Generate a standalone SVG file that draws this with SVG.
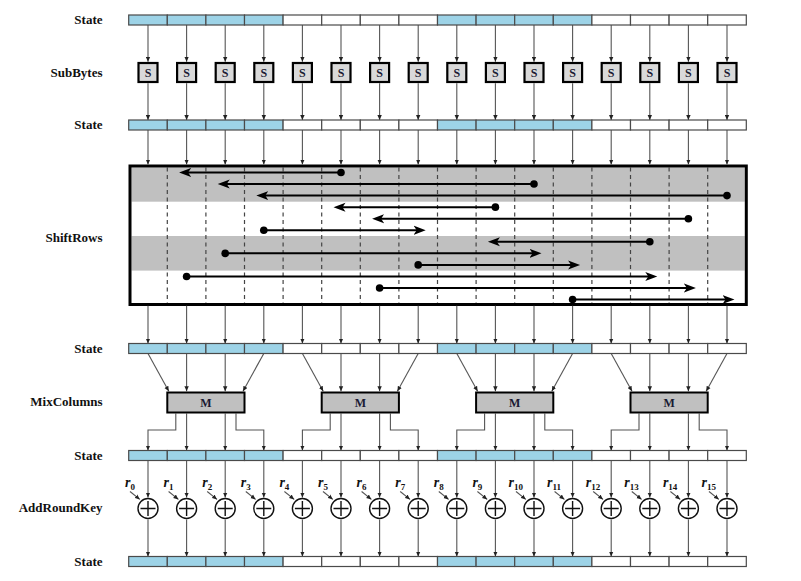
<svg xmlns="http://www.w3.org/2000/svg" xmlns:xlink="http://www.w3.org/1999/xlink" width="801" height="581" viewBox="0 0 801 581">
<style>
.lbl{font-family:"Liberation Serif","Times New Roman",serif;font-weight:bold;font-size:13px;text-anchor:end;fill:#111}
.conn{stroke:#555;stroke-width:1.1;fill:none;marker-end:url(#ah)}
.sr{stroke:#000;stroke-width:2;fill:none;marker-start:url(#dot);marker-end:url(#big)}
.cb{fill:#9dd3e7;stroke:#4a4a4a;stroke-width:1.2}
.cw{fill:#fff;stroke:#4a4a4a;stroke-width:1.2}
.sbox rect{fill:#d9d9d9;stroke:#000;stroke-width:2.2}
.mbox rect{fill:#c0c0c0;stroke:#000;stroke-width:2}
.bt{font-family:"Liberation Serif","Times New Roman",serif;font-weight:bold;text-anchor:middle;fill:#1a1a33}
.xor circle{fill:#fff;stroke:#111;stroke-width:1.4}
.xor path{stroke:#111;stroke-width:1.4;fill:none}
.rl{font-family:"Liberation Serif","Times New Roman",serif;font-style:italic;font-weight:bold;font-size:14px;fill:#111}
.rl tspan{font-style:normal;font-size:9px}
.dash{stroke:#444;stroke-width:1.2;stroke-dasharray:4 3.5}
</style>
<defs>
<marker id="ah" markerUnits="userSpaceOnUse" markerWidth="6" markerHeight="5" refX="5" refY="2.5" orient="auto"><path d="M0,0.3 L5,2.5 L0,4.7 z" fill="#222"/></marker>
<marker id="big" markerUnits="userSpaceOnUse" markerWidth="13" markerHeight="10" refX="7.5" refY="5" orient="auto"><path d="M0,0.5 L12,5 L0,9.5 L3,5 z" fill="#000"/></marker>
<marker id="dot" markerUnits="userSpaceOnUse" markerWidth="9" markerHeight="9" refX="4.5" refY="4.5"><circle cx="4.5" cy="4.5" r="3.8" fill="#000"/></marker>
<g id="barShape">
<rect class="cb" x="128.7" y="0" width="38.6" height="10"/>
<rect class="cb" x="167.3" y="0" width="38.6" height="10"/>
<rect class="cb" x="205.9" y="0" width="38.6" height="10"/>
<rect class="cb" x="244.5" y="0" width="38.6" height="10"/>
<rect class="cw" x="283.1" y="0" width="38.6" height="10"/>
<rect class="cw" x="321.7" y="0" width="38.6" height="10"/>
<rect class="cw" x="360.3" y="0" width="38.6" height="10"/>
<rect class="cw" x="398.9" y="0" width="38.6" height="10"/>
<rect class="cb" x="437.5" y="0" width="38.6" height="10"/>
<rect class="cb" x="476.1" y="0" width="38.6" height="10"/>
<rect class="cb" x="514.7" y="0" width="38.6" height="10"/>
<rect class="cb" x="553.3" y="0" width="38.6" height="10"/>
<rect class="cw" x="591.9" y="0" width="38.6" height="10"/>
<rect class="cw" x="630.5" y="0" width="38.6" height="10"/>
<rect class="cw" x="669.1" y="0" width="38.6" height="10"/>
<rect class="cw" x="707.7" y="0" width="38.6" height="10"/>
</g>
<g id="colArrows">
<path class="conn" d="M0,25 V61.8"/>
<path class="conn" d="M0,83.2 V120"/>
<path class="conn" d="M0,130 V164.5"/>
<path class="conn" d="M0,305.8 V343.5"/>
<path class="conn" d="M0,460.5 V497.6"/>
<path class="conn" d="M0,519.4 V556.5"/>
<path class="conn" d="M-18,491.5 L-8.2,499.4"/>
</g>
<g id="mixArrows">
<path class="conn" d="M148,353.5 L168.8,391.2"/>
<path class="conn" d="M186.6,353.5 V391.2"/>
<path class="conn" d="M225.2,353.5 V391.2"/>
<path class="conn" d="M263.8,353.5 L243,391.2"/>
<path class="conn" d="M175.8,413.5 V430 H148 V450.5"/>
<path class="conn" d="M186.6,413.5 V450.5"/>
<path class="conn" d="M225.2,413.5 V450.5"/>
<path class="conn" d="M236,413.5 V430 H263.8 V450.5"/>
</g>
</defs>
<rect width="801" height="581" fill="#fff"/>

<g id="labels">
<text class="lbl" x="102.5" y="24.3">State</text>
<text class="lbl" x="102.5" y="77">SubBytes</text>
<text class="lbl" x="102.5" y="129.3">State</text>
<text class="lbl" x="102.5" y="241.5">ShiftRows</text>
<text class="lbl" x="102.5" y="353">State</text>
<text class="lbl" x="102.5" y="405.5">MixColumns</text>
<text class="lbl" x="102.5" y="460">State</text>
<text class="lbl" x="102.5" y="512">AddRoundKey</text>
<text class="lbl" x="102.5" y="565.5">State</text>
</g>

<g id="shiftrows">
<rect x="131.5" y="167.5" width="613.3" height="34.2" fill="#c0c0c0"/>
<rect x="131.5" y="236" width="613.3" height="34.6" fill="#c0c0c0"/>
<g class="dash">
<path d="M167.3,167.5V303M205.9,167.5V303M244.5,167.5V303M283.1,167.5V303M321.7,167.5V303M360.3,167.5V303M398.9,167.5V303M437.5,167.5V303M476.1,167.5V303M514.7,167.5V303M553.3,167.5V303M591.9,167.5V303M630.5,167.5V303M669.1,167.5V303M707.7,167.5V303"/>
</g>
<path class="sr" d="M341,172.5 H183.6"/>
<path class="sr" d="M534,184.05 H222.2"/>
<path class="sr" d="M727,195.6 H260.8"/>
<path class="sr" d="M495.4,207.15 H338"/>
<path class="sr" d="M688.4,218.7 H376.6"/>
<path class="sr" d="M263.8,230.25 H421.2"/>
<path class="sr" d="M649.8,241.8 H492.4"/>
<path class="sr" d="M225.2,253.35 H537"/>
<path class="sr" d="M418.2,264.9 H575.6"/>
<path class="sr" d="M186.6,276.45 H652.8"/>
<path class="sr" d="M379.6,288 H691.4"/>
<path class="sr" d="M572.6,299.55 H730"/>
<rect x="130" y="166" width="616.3" height="138.5" fill="none" stroke="#000" stroke-width="3"/>
</g>

<g id="connectors">
<use href="#colArrows" x="148"/>
<use href="#colArrows" x="186.6"/>
<use href="#colArrows" x="225.2"/>
<use href="#colArrows" x="263.8"/>
<use href="#colArrows" x="302.4"/>
<use href="#colArrows" x="341"/>
<use href="#colArrows" x="379.6"/>
<use href="#colArrows" x="418.2"/>
<use href="#colArrows" x="456.8"/>
<use href="#colArrows" x="495.4"/>
<use href="#colArrows" x="534"/>
<use href="#colArrows" x="572.6"/>
<use href="#colArrows" x="611.2"/>
<use href="#colArrows" x="649.8"/>
<use href="#colArrows" x="688.4"/>
<use href="#colArrows" x="727"/>
<use href="#mixArrows" x="0"/>
<use href="#mixArrows" x="154.4"/>
<use href="#mixArrows" x="308.8"/>
<use href="#mixArrows" x="463.2"/>
</g>

<g id="state1"><use href="#barShape" y="15"/></g>
<g id="state2"><use href="#barShape" y="120"/></g>
<g id="state3"><use href="#barShape" y="343.5"/></g>
<g id="state4"><use href="#barShape" y="450.5"/></g>
<g id="state5"><use href="#barShape" y="556.5"/></g>

<g id="subbytes">
<g id="s0" class="sbox" transform="translate(148,0)"><rect x="-9.5" y="63" width="19" height="19"/><text class="bt" font-size="12" x="0" y="76.8">S</text></g>
<g id="s1" class="sbox" transform="translate(186.6,0)"><rect x="-9.5" y="63" width="19" height="19"/><text class="bt" font-size="12" x="0" y="76.8">S</text></g>
<g id="s2" class="sbox" transform="translate(225.2,0)"><rect x="-9.5" y="63" width="19" height="19"/><text class="bt" font-size="12" x="0" y="76.8">S</text></g>
<g id="s3" class="sbox" transform="translate(263.8,0)"><rect x="-9.5" y="63" width="19" height="19"/><text class="bt" font-size="12" x="0" y="76.8">S</text></g>
<g id="s4" class="sbox" transform="translate(302.4,0)"><rect x="-9.5" y="63" width="19" height="19"/><text class="bt" font-size="12" x="0" y="76.8">S</text></g>
<g id="s5" class="sbox" transform="translate(341,0)"><rect x="-9.5" y="63" width="19" height="19"/><text class="bt" font-size="12" x="0" y="76.8">S</text></g>
<g id="s6" class="sbox" transform="translate(379.6,0)"><rect x="-9.5" y="63" width="19" height="19"/><text class="bt" font-size="12" x="0" y="76.8">S</text></g>
<g id="s7" class="sbox" transform="translate(418.2,0)"><rect x="-9.5" y="63" width="19" height="19"/><text class="bt" font-size="12" x="0" y="76.8">S</text></g>
<g id="s8" class="sbox" transform="translate(456.8,0)"><rect x="-9.5" y="63" width="19" height="19"/><text class="bt" font-size="12" x="0" y="76.8">S</text></g>
<g id="s9" class="sbox" transform="translate(495.4,0)"><rect x="-9.5" y="63" width="19" height="19"/><text class="bt" font-size="12" x="0" y="76.8">S</text></g>
<g id="s10" class="sbox" transform="translate(534,0)"><rect x="-9.5" y="63" width="19" height="19"/><text class="bt" font-size="12" x="0" y="76.8">S</text></g>
<g id="s11" class="sbox" transform="translate(572.6,0)"><rect x="-9.5" y="63" width="19" height="19"/><text class="bt" font-size="12" x="0" y="76.8">S</text></g>
<g id="s12" class="sbox" transform="translate(611.2,0)"><rect x="-9.5" y="63" width="19" height="19"/><text class="bt" font-size="12" x="0" y="76.8">S</text></g>
<g id="s13" class="sbox" transform="translate(649.8,0)"><rect x="-9.5" y="63" width="19" height="19"/><text class="bt" font-size="12" x="0" y="76.8">S</text></g>
<g id="s14" class="sbox" transform="translate(688.4,0)"><rect x="-9.5" y="63" width="19" height="19"/><text class="bt" font-size="12" x="0" y="76.8">S</text></g>
<g id="s15" class="sbox" transform="translate(727,0)"><rect x="-9.5" y="63" width="19" height="19"/><text class="bt" font-size="12" x="0" y="76.8">S</text></g>
</g>

<g id="mixcolumns">
<g id="m0" class="mbox" transform="translate(0,0)"><rect x="167.3" y="392.5" width="77.2" height="20"/><text class="bt" font-size="12" x="205.9" y="406.8">M</text></g>
<g id="m1" class="mbox" transform="translate(154.4,0)"><rect x="167.3" y="392.5" width="77.2" height="20"/><text class="bt" font-size="12" x="205.9" y="406.8">M</text></g>
<g id="m2" class="mbox" transform="translate(308.8,0)"><rect x="167.3" y="392.5" width="77.2" height="20"/><text class="bt" font-size="12" x="205.9" y="406.8">M</text></g>
<g id="m3" class="mbox" transform="translate(463.2,0)"><rect x="167.3" y="392.5" width="77.2" height="20"/><text class="bt" font-size="12" x="205.9" y="406.8">M</text></g>
</g>

<g id="addroundkey">
<g id="x0" class="xor" transform="translate(148,508.5)"><circle r="10"/><path d="M-7.5,0H7.5M0,-7.5V7.5"/><text class="rl" x="-23" y="-21.5">r<tspan dy="3">0</tspan></text></g>
<g id="x1" class="xor" transform="translate(186.6,508.5)"><circle r="10"/><path d="M-7.5,0H7.5M0,-7.5V7.5"/><text class="rl" x="-23" y="-21.5">r<tspan dy="3">1</tspan></text></g>
<g id="x2" class="xor" transform="translate(225.2,508.5)"><circle r="10"/><path d="M-7.5,0H7.5M0,-7.5V7.5"/><text class="rl" x="-23" y="-21.5">r<tspan dy="3">2</tspan></text></g>
<g id="x3" class="xor" transform="translate(263.8,508.5)"><circle r="10"/><path d="M-7.5,0H7.5M0,-7.5V7.5"/><text class="rl" x="-23" y="-21.5">r<tspan dy="3">3</tspan></text></g>
<g id="x4" class="xor" transform="translate(302.4,508.5)"><circle r="10"/><path d="M-7.5,0H7.5M0,-7.5V7.5"/><text class="rl" x="-23" y="-21.5">r<tspan dy="3">4</tspan></text></g>
<g id="x5" class="xor" transform="translate(341,508.5)"><circle r="10"/><path d="M-7.5,0H7.5M0,-7.5V7.5"/><text class="rl" x="-23" y="-21.5">r<tspan dy="3">5</tspan></text></g>
<g id="x6" class="xor" transform="translate(379.6,508.5)"><circle r="10"/><path d="M-7.5,0H7.5M0,-7.5V7.5"/><text class="rl" x="-23" y="-21.5">r<tspan dy="3">6</tspan></text></g>
<g id="x7" class="xor" transform="translate(418.2,508.5)"><circle r="10"/><path d="M-7.5,0H7.5M0,-7.5V7.5"/><text class="rl" x="-23" y="-21.5">r<tspan dy="3">7</tspan></text></g>
<g id="x8" class="xor" transform="translate(456.8,508.5)"><circle r="10"/><path d="M-7.5,0H7.5M0,-7.5V7.5"/><text class="rl" x="-23" y="-21.5">r<tspan dy="3">8</tspan></text></g>
<g id="x9" class="xor" transform="translate(495.4,508.5)"><circle r="10"/><path d="M-7.5,0H7.5M0,-7.5V7.5"/><text class="rl" x="-23" y="-21.5">r<tspan dy="3">9</tspan></text></g>
<g id="x10" class="xor" transform="translate(534,508.5)"><circle r="10"/><path d="M-7.5,0H7.5M0,-7.5V7.5"/><text class="rl" x="-25.5" y="-21.5">r<tspan dy="3">10</tspan></text></g>
<g id="x11" class="xor" transform="translate(572.6,508.5)"><circle r="10"/><path d="M-7.5,0H7.5M0,-7.5V7.5"/><text class="rl" x="-25.5" y="-21.5">r<tspan dy="3">11</tspan></text></g>
<g id="x12" class="xor" transform="translate(611.2,508.5)"><circle r="10"/><path d="M-7.5,0H7.5M0,-7.5V7.5"/><text class="rl" x="-25.5" y="-21.5">r<tspan dy="3">12</tspan></text></g>
<g id="x13" class="xor" transform="translate(649.8,508.5)"><circle r="10"/><path d="M-7.5,0H7.5M0,-7.5V7.5"/><text class="rl" x="-25.5" y="-21.5">r<tspan dy="3">13</tspan></text></g>
<g id="x14" class="xor" transform="translate(688.4,508.5)"><circle r="10"/><path d="M-7.5,0H7.5M0,-7.5V7.5"/><text class="rl" x="-25.5" y="-21.5">r<tspan dy="3">14</tspan></text></g>
<g id="x15" class="xor" transform="translate(727,508.5)"><circle r="10"/><path d="M-7.5,0H7.5M0,-7.5V7.5"/><text class="rl" x="-25.5" y="-21.5">r<tspan dy="3">15</tspan></text></g>
</g>
</svg>
